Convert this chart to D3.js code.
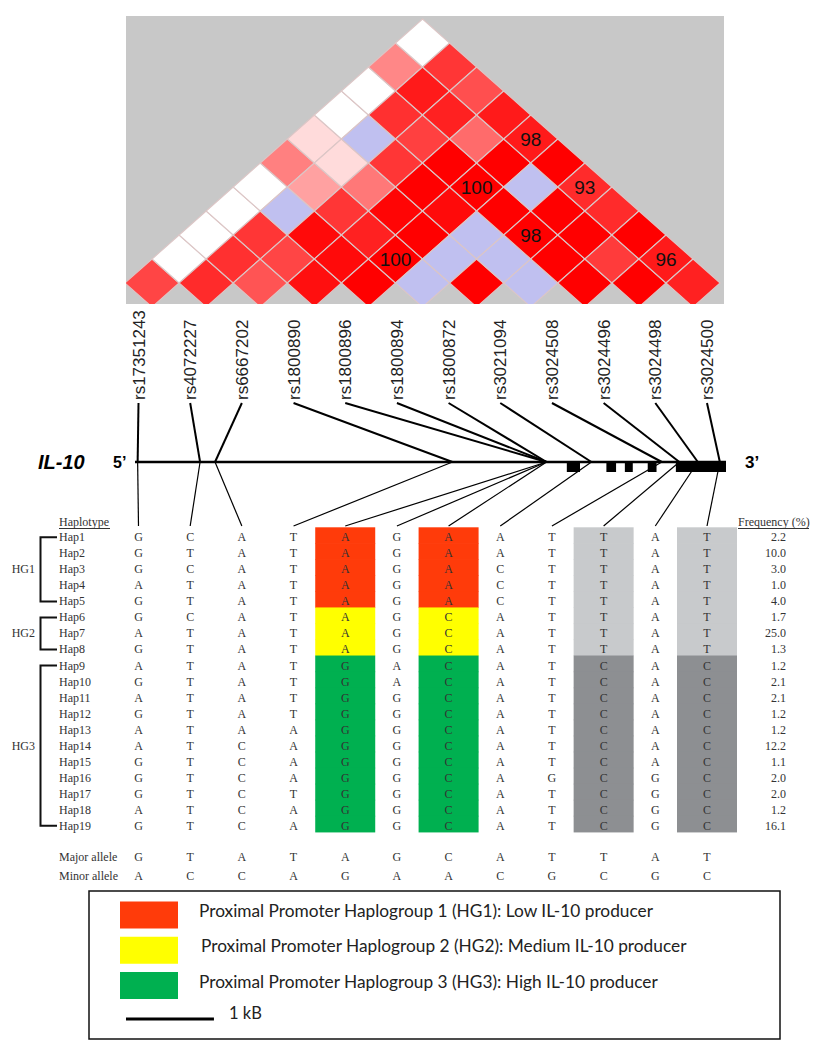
<!DOCTYPE html>
<html>
<head>
<meta charset="utf-8">
<script src="https://cdn.jsdelivr.net/npm/d3@7"></script>
<style>
  body { margin: 0; background: #fff; }
</style>
</head>
<body>
<div id="chart"></div>
<script>
// SNP names, 5' -> 3'
const snps = ['rs17351243', 'rs4072227', 'rs6667202', 'rs1800890', 'rs1800896', 'rs1800894',
  'rs1800872', 'rs3021094', 'rs3024508', 'rs3024496', 'rs3024498', 'rs3024500'];

// LD shading: row i holds pairs (i, i+1) .. (i, 11); 0 = white, 100 = full red, 'B' = blue (low LOD)
const ldShade = [
  [73, 0, 0, 0, 0, 50, 14, 0, 0, 47, 0],
  [83, 81, 79, 'B', 37, 14, 'B', 81, 90, 79],
  [67, 73, 96, 79, 53, 79, 75, 87, 69],
  [94, 96, 87, 98, 100, 100, 58, 90],
  [100, 100, 100, 96, 100, 100, 90],
  ['B', 'B', 'B', 100, 'B', 100],
  [100, 'B', 100, 100, 83],
  ['B', 100, 100, 83],
  [100, 77, 100],
  [100, 90],
  [87]
];
// numbers printed in cells: [i, j, text]
const ldLabels = [[4, 6, '100'], [4, 9, '100'], [4, 11, '98'], [6, 9, '98'], [6, 11, '93'], [9, 11, '96']];

// SNP position along the gene drawing (kb from the 5' end) and exons
const snpKb = [0.03, 0.74, 0.91, 3.61, 4.68, 4.68, 4.68, 5.19, 5.99, 6.19, 6.40, 6.65];
const geneKb = 6.72;
const exons = [[4.91, 5.06], [5.36, 5.47], [5.57, 5.66], [5.83, 5.93], [6.15, 6.72]];

// haplotype table
const haplotypes = ['Hap1', 'Hap2', 'Hap3', 'Hap4', 'Hap5', 'Hap6', 'Hap7', 'Hap8', 'Hap9', 'Hap10',
  'Hap11', 'Hap12', 'Hap13', 'Hap14', 'Hap15', 'Hap16', 'Hap17', 'Hap18', 'Hap19'];
const haplogroup = [1, 1, 1, 1, 1, 2, 2, 2, 3, 3, 3, 3, 3, 3, 3, 3, 3, 3, 3];
const alleles = [
  'GCATAGAATTAT', 'GTATAGAATTAT', 'GCATAGACTTAT', 'ATATAGACTTAT', 'GTATAGACTTAT',
  'GCATAGCATTAT', 'ATATAGCATTAT', 'GTATAGCATTAT',
  'ATATGACATCAC', 'GTATGACATCAC', 'ATATGGCATCAC', 'GTATGGCATCAC', 'ATAAGGCATCAC',
  'ATCAGGCATCAC', 'GTCAGGCATCAC', 'GTCAGGCAGCGC', 'GTCTGGCATCGC', 'ATCAGGCATCGC', 'GTCAGGCATCGC'
];
const frequency = ['2.2', '10.0', '3.0', '1.0', '4.0', '1.7', '25.0', '1.3', '1.2', '2.1', '2.1',
  '1.2', '1.2', '12.2', '1.1', '2.0', '2.0', '1.2', '16.1'];
const majorAllele = 'GTATAGCATTAT';
const minorAllele = 'ACCAGAACGCGC';

const groupCols = [4, 6];     // columns shaded by haplogroup
const greyCols = [9, 11];     // columns shaded by allele
const groupColor = { 1: '#ff3b0a', 2: '#ffff00', 3: '#00b050' };
const greyColor = { T: '#c8cacc', C: '#8d8f92' };

const legendItems = [
  { hg: 1, text: 'Proximal Promoter Haplogroup 1 (HG1): Low IL-10 producer' },
  { hg: 2, text: 'Proximal Promoter Haplogroup 2 (HG2): Medium IL-10 producer' },
  { hg: 3, text: 'Proximal Promoter Haplogroup 3 (HG3): High IL-10 producer' }
];

const width = 833, height = 1050;
const svg = d3.select('#chart').append('svg')
  .attr('width', width).attr('height', height)
  .style('display', 'block');

const sans = 'Liberation Sans, Arial, sans-serif';
const serif = 'Liberation Serif, Times New Roman, serif';

// ---------- LD triangle ----------
const ldX = d3.scaleLinear().domain([0, 11]).range([125, 720.1]);
const ldY = d3.scaleLinear().domain([1, 11]).range([283, 43]);
const hw = (ldX(1) - ldX(0)) / 2;
const hh = ldY(1) - ldY(2);
const red = d3.interpolateRgb('#ffffff', '#ff0000');

svg.append('clipPath').attr('id', 'ldclip')
  .append('rect').attr('x', 126).attr('y', 16).attr('width', 598).attr('height', 288);
svg.append('rect').attr('x', 126).attr('y', 16).attr('width', 598).attr('height', 288)
  .attr('fill', '#c8c8c8');

const cells = [];
ldShade.forEach((row, i) => row.forEach((v, k) => cells.push({ i, j: i + k + 1, v })));

const ld = svg.append('g').attr('clip-path', 'url(#ldclip)');
ld.selectAll('path').data(cells).join('path')
  .attr('d', d => {
    const cx = ldX((d.i + d.j) / 2), cy = ldY(d.j - d.i);
    return `M${cx},${cy - hh}L${cx + hw},${cy}L${cx},${cy + hh}L${cx - hw},${cy}Z`;
  })
  .attr('fill', d => d.v === 'B' ? '#c0c0f0' : red(d.v / 100))
  .attr('stroke', '#dcc6c6')
  .attr('stroke-width', 1.1);

ld.selectAll('text').data(ldLabels).join('text')
  .attr('x', d => ldX((d[0] + d[1]) / 2))
  .attr('y', d => ldY(d[1] - d[0]) + 7)
  .attr('text-anchor', 'middle')
  .attr('font-family', sans).attr('font-size', 19)
  .attr('fill', '#111')
  .text(d => d[2]);

// ---------- SNP labels and gene ----------
const colX = d3.scaleLinear().domain([0, 11]).range([138.5, 707]);
const geneX = d3.scaleLinear().domain([0, geneKb]).range([135, 726]);
const geneY = 462, labelBase = 400, tableTop = 526;

svg.append('g').selectAll('text').data(snps).join('text')
  .attr('transform', (d, k) => `translate(${colX(k) + 6},${labelBase}) rotate(-90)`)
  .attr('font-family', sans).attr('font-size', 17)
  .attr('fill', '#222')
  .text(d => d);

svg.append('g').selectAll('line').data(snpKb).join('line')
  .attr('x1', (d, k) => colX(k)).attr('y1', labelBase + 3)
  .attr('x2', d => geneX(d)).attr('y2', geneY)
  .attr('stroke', '#000').attr('stroke-width', 2);

svg.append('g').selectAll('line').data(snpKb).join('line')
  .attr('x1', d => geneX(d)).attr('y1', geneY)
  .attr('x2', (d, k) => colX(k)).attr('y2', tableTop)
  .attr('stroke', '#000').attr('stroke-width', 1.2);

svg.append('line')
  .attr('x1', geneX(0)).attr('x2', geneX(geneKb))
  .attr('y1', geneY).attr('y2', geneY)
  .attr('stroke', '#000').attr('stroke-width', 2.5);

svg.append('g').selectAll('rect').data(exons).join('rect')
  .attr('x', d => geneX(d[0])).attr('width', d => geneX(d[1]) - geneX(d[0]))
  .attr('y', geneY - 1).attr('height', 11)
  .attr('fill', '#000');

svg.append('text').attr('x', 38).attr('y', geneY + 7)
  .attr('font-family', sans).attr('font-size', 20)
  .attr('font-weight', 'bold').attr('font-style', 'italic')
  .text('IL-10');
svg.append('text').attr('x', 113).attr('y', geneY + 6)
  .attr('font-family', sans).attr('font-size', 16).attr('font-weight', 'bold')
  .text('5\u2019');
svg.append('text').attr('x', 745).attr('y', geneY + 6)
  .attr('font-family', sans).attr('font-size', 17).attr('font-weight', 'bold')
  .text('3\u2019');

// ---------- haplotype table ----------
const rowY = d3.scaleLinear().domain([0, 18]).range([537.3, 825.8]);
const rowH = rowY(1) - rowY(0);
const table = svg.append('g').attr('font-family', serif).attr('font-size', 12).attr('fill', '#333');

const shaded = [];
alleles.forEach((a, r) => {
  groupCols.forEach(c => shaded.push({ r, c, fill: groupColor[haplogroup[r]] }));
  greyCols.forEach(c => shaded.push({ r, c, fill: greyColor[a[c]] }));
});
table.append('g').selectAll('rect').data(shaded).join('rect')
  .attr('x', d => colX(d.c) - 30).attr('width', 60)
  .attr('y', d => rowY(d.r) - 10).attr('height', rowH + 0.6)
  .attr('fill', d => d.fill);

const cellsTxt = [];
alleles.forEach((a, r) => a.split('').forEach((ch, c) => cellsTxt.push({ r, c, ch })));
table.append('g').selectAll('text').data(cellsTxt).join('text')
  .attr('x', d => colX(d.c)).attr('y', d => rowY(d.r) + 4)
  .attr('text-anchor', 'middle')
  .text(d => d.ch);

table.append('g').selectAll('text').data(haplotypes).join('text')
  .attr('x', 59).attr('y', (d, r) => rowY(r) + 4)
  .text(d => d);

table.append('g').selectAll('text').data(frequency).join('text')
  .attr('x', 786).attr('y', (d, r) => rowY(r) + 4)
  .attr('text-anchor', 'end')
  .text(d => d);

// headers
table.append('text').attr('x', 59).attr('y', 525.5).text('Haplotype');
table.append('line').attr('x1', 59).attr('x2', 110).attr('y1', 528.5).attr('y2', 528.5)
  .attr('stroke', '#333').attr('stroke-width', 1.2);
table.append('text').attr('x', 738).attr('y', 525.5).text('Frequency (%)');
table.append('line').attr('x1', 738).attr('x2', 809).attr('y1', 528.5).attr('y2', 528.5)
  .attr('stroke', '#333').attr('stroke-width', 1.2);

// haplogroup brackets
const groups = d3.groups(haplogroup.map((g, r) => ({ g, r })), d => d.g);
groups.forEach(([g, rows]) => {
  const y0 = rowY(rows[0].r), y1 = rowY(rows[rows.length - 1].r);
  table.append('path')
    .attr('d', `M57,${y0}H40.5V${y1}H57`)
    .attr('fill', 'none').attr('stroke', '#111').attr('stroke-width', 2);
  table.append('text').attr('x', 35).attr('y', (y0 + y1) / 2 + 4)
    .attr('text-anchor', 'end').text('HG' + g);
});

// major / minor allele rows
[['Major allele', majorAllele, 857.3], ['Minor allele', minorAllele, 876]].forEach(([name, seq, y]) => {
  table.append('text').attr('x', 59).attr('y', y + 4).text(name);
  table.append('g').selectAll('text').data(seq.split('')).join('text')
    .attr('x', (d, c) => colX(c)).attr('y', y + 4)
    .attr('text-anchor', 'middle')
    .text(d => d);
});

// ---------- legend ----------
const legend = svg.append('g');
legend.append('rect').attr('x', 89).attr('y', 891).attr('width', 691).attr('height', 148)
  .attr('fill', 'none').attr('stroke', '#111').attr('stroke-width', 1.5);

const legY = d3.scalePoint().domain(legendItems.map(d => d.hg)).range([915, 985.5]);
legend.selectAll('rect.sw').data(legendItems).join('rect')
  .attr('class', 'sw')
  .attr('x', 120).attr('width', 58)
  .attr('y', d => legY(d.hg) - 13.5).attr('height', 27)
  .attr('fill', d => groupColor[d.hg]);
legend.selectAll('text.lt').data(legendItems).join('text')
  .attr('class', 'lt')
  .attr('x', (d, k) => k === 1 ? 201 : 199).attr('y', d => legY(d.hg) + 2)
  .attr('font-family', 'Lato, sans-serif').attr('font-size', 17.3)
  .attr('fill', '#222')
  .text(d => d.text);

legend.append('line').attr('x1', geneX(0) - 9).attr('x2', geneX(1) - 9)
  .attr('y1', 1019).attr('y2', 1019)
  .attr('stroke', '#000').attr('stroke-width', 3);
legend.append('text').attr('x', 229).attr('y', 1019)
  .attr('font-family', 'Lato, sans-serif').attr('font-size', 16.5)
  .attr('fill', '#222')
  .text('1 kB');
</script>
</body>
</html>
